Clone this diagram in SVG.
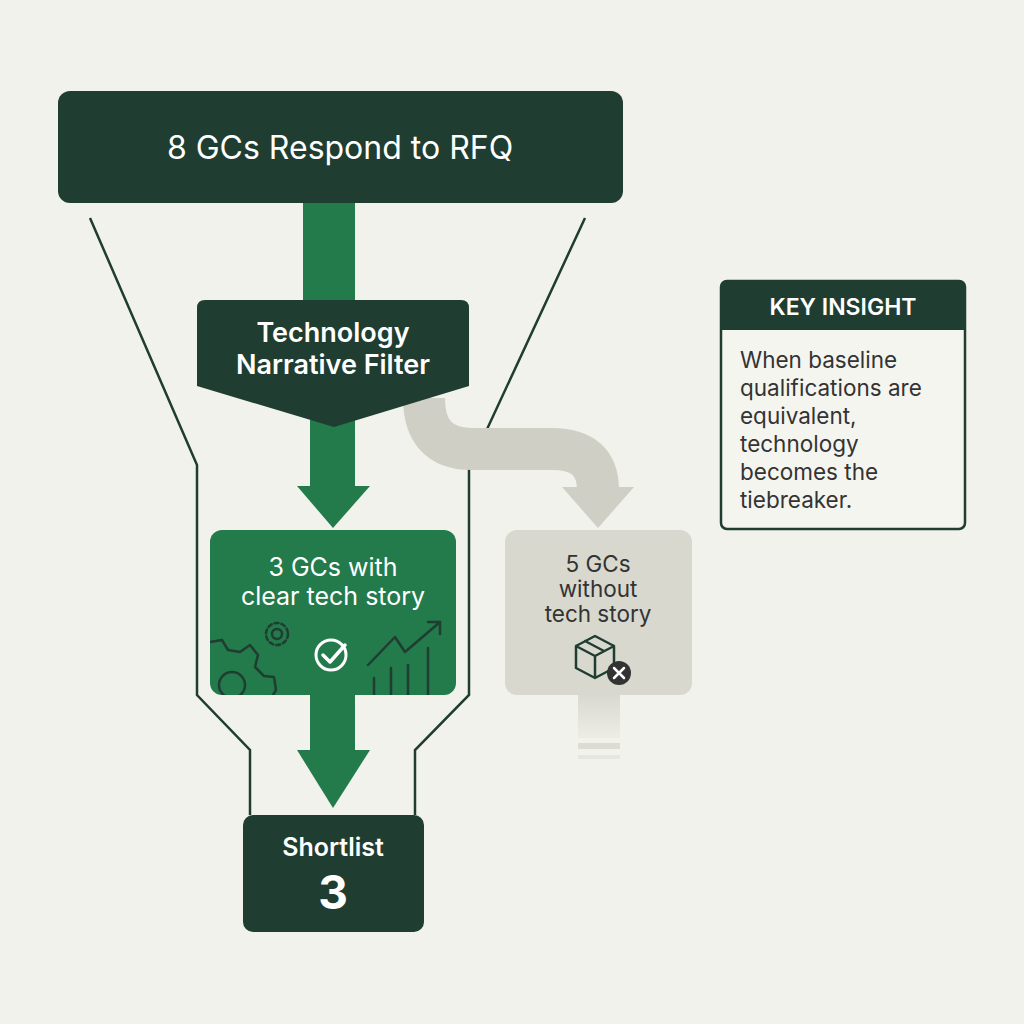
<svg xmlns="http://www.w3.org/2000/svg" width="1024" height="1024" viewBox="0 0 1024 1024">
<style>
.dark{fill:#1f3d31}
.green{fill:#237a4b}
.t{font-family:Inter,"Liberation Sans",sans-serif;text-anchor:middle}
.w{fill:#fff}
.line{fill:none;stroke:#1f3d31;stroke-width:2.5}
.ic{fill:none;stroke:#1f3d31;stroke-width:2.5;stroke-linecap:round;stroke-linejoin:round}
</style>
<defs>
<linearGradient id="fade" x1="0" y1="0" x2="0" y2="1"><stop offset="0" stop-color="#d8d8cf"/><stop offset="1" stop-color="#d8d8cf" stop-opacity="0.2"/></linearGradient>
<clipPath id="gclip"><rect x="210" y="530" width="246" height="165" rx="12"/></clipPath>
</defs>
<rect width="1024" height="1024" fill="#f2f2ec"/>
<g id="connectors">
<polyline class="line" points="90,218 197,465 197,695 250,750 250,815"/>
<polyline class="line" points="585,218 469,468 469,695 415,750 415,815"/>
<rect class="green" x="303" y="203" width="52" height="100"/>
<rect class="green" x="310" y="420" width="45" height="68"/>
<polygon class="green" points="297,486 370,486 333,528"/>
<rect class="green" x="310" y="690" width="45" height="65"/>
<polygon class="green" points="297,750 370,750 333,808"/>
<path d="M424,398 Q424,449 472,449 L552,449 Q598,449 598,490" fill="none" stroke="#cfcfc6" stroke-width="42"/>
<polygon points="562,487 634,487 598,528" fill="#cfcfc6"/>
<rect x="578" y="693" width="42" height="45" fill="url(#fade)"/>
<rect x="578" y="743" width="42" height="6" fill="#dcdcd4"/>
<rect x="578" y="755" width="42" height="4" fill="#e6e6de"/>
</g>
<g id="top">
<rect class="dark" x="58" y="91" width="565" height="112" rx="12"/>
<text class="t w" x="340" y="159" font-size="32">8 GCs Respond to RFQ</text>
</g>
<g id="filter">
<path class="dark" d="M205,300 H461 Q469,300 469,308 V386 L334,427 L197,386 V308 Q197,300 205,300 Z"/>
<text class="t w" x="333" y="342" font-size="27" font-weight="600">Technology</text>
<text class="t w" x="333" y="374" font-size="27" font-weight="600">Narrative Filter</text>
</g>
<g id="with">
<rect class="green" x="210" y="530" width="246" height="165" rx="12"/>
<text class="t w" x="333" y="576" font-size="25">3 GCs with</text>
<text class="t w" x="333" y="605" font-size="25">clear tech story</text>
<g clip-path="url(#gclip)" class="ic" stroke-width="2">
<circle cx="232" cy="685" r="13"/>
<path d="M210,642 L222,640 L228,650 L240,652 L250,645 L258,655 L255,667 L264,676 L274,677 L276,690 L270,700"/>
<circle cx="277" cy="634" r="5"/>
<circle cx="277" cy="634" r="11" stroke-dasharray="4 3"/>
<path d="M368,665 L395,637 L405,652 L440,622 M428,622 H440 V634"/>
<path d="M374,695 V678 M391,695 V668 M408,695 V665 M428,695 V648"/>
</g>
<circle cx="331" cy="655" r="15" fill="none" stroke="#fff" stroke-width="3"/>
<path d="M323,655 L330,662 L345,645" fill="none" stroke="#fff" stroke-width="3.5" stroke-linecap="round" stroke-linejoin="round"/>
</g>
<g id="without">
<rect x="505" y="530" width="187" height="165" rx="12" fill="#d8d8cf"/>
<text class="t" x="598" y="572" font-size="22.5" fill="#333">5 GCs</text>
<text class="t" x="598" y="597" font-size="22.5" fill="#333">without</text>
<text class="t" x="598" y="622" font-size="22.5" fill="#333">tech story</text>
<path class="ic" stroke="#333" stroke-width="2" d="M576,646 L595,636 L614,646 V668 L595,678 L576,668 Z M576,646 L595,656 L614,646 M595,656 V678 M585,641 L604,651"/>
<circle cx="619" cy="673" r="12" fill="#333"/>
<path d="M614,668 L624,678 M624,668 L614,678" stroke="#fff" stroke-width="2.5" stroke-linecap="round"/>
</g>
<g id="shortlist">
<rect class="dark" x="243" y="815" width="181" height="117" rx="10"/>
<text class="t w" x="333" y="856" font-size="25" font-weight="600">Shortlist</text>
<text class="t w" x="333" y="909" font-size="46" font-weight="bold">3</text>
</g>
<g id="insight">
<rect x="721" y="281" width="244" height="248" rx="6" fill="#f5f5ef" stroke="#1f3d31" stroke-width="2.5"/>
<path class="dark" d="M727,281 H959 Q965,281 965,287 V330 H721 V287 Q721,281 727,281 Z"/>
<text class="t w" x="843" y="315" font-size="23" font-weight="600">KEY INSIGHT</text>
<g font-family="Inter,'Liberation Sans',sans-serif" font-size="22.5" fill="#333">
<text x="740" y="368">When baseline</text>
<text x="740" y="396">qualifications are</text>
<text x="740" y="424">equivalent,</text>
<text x="740" y="452">technology</text>
<text x="740" y="480">becomes the</text>
<text x="740" y="508">tiebreaker.</text>
</g>
</g>
</svg>
